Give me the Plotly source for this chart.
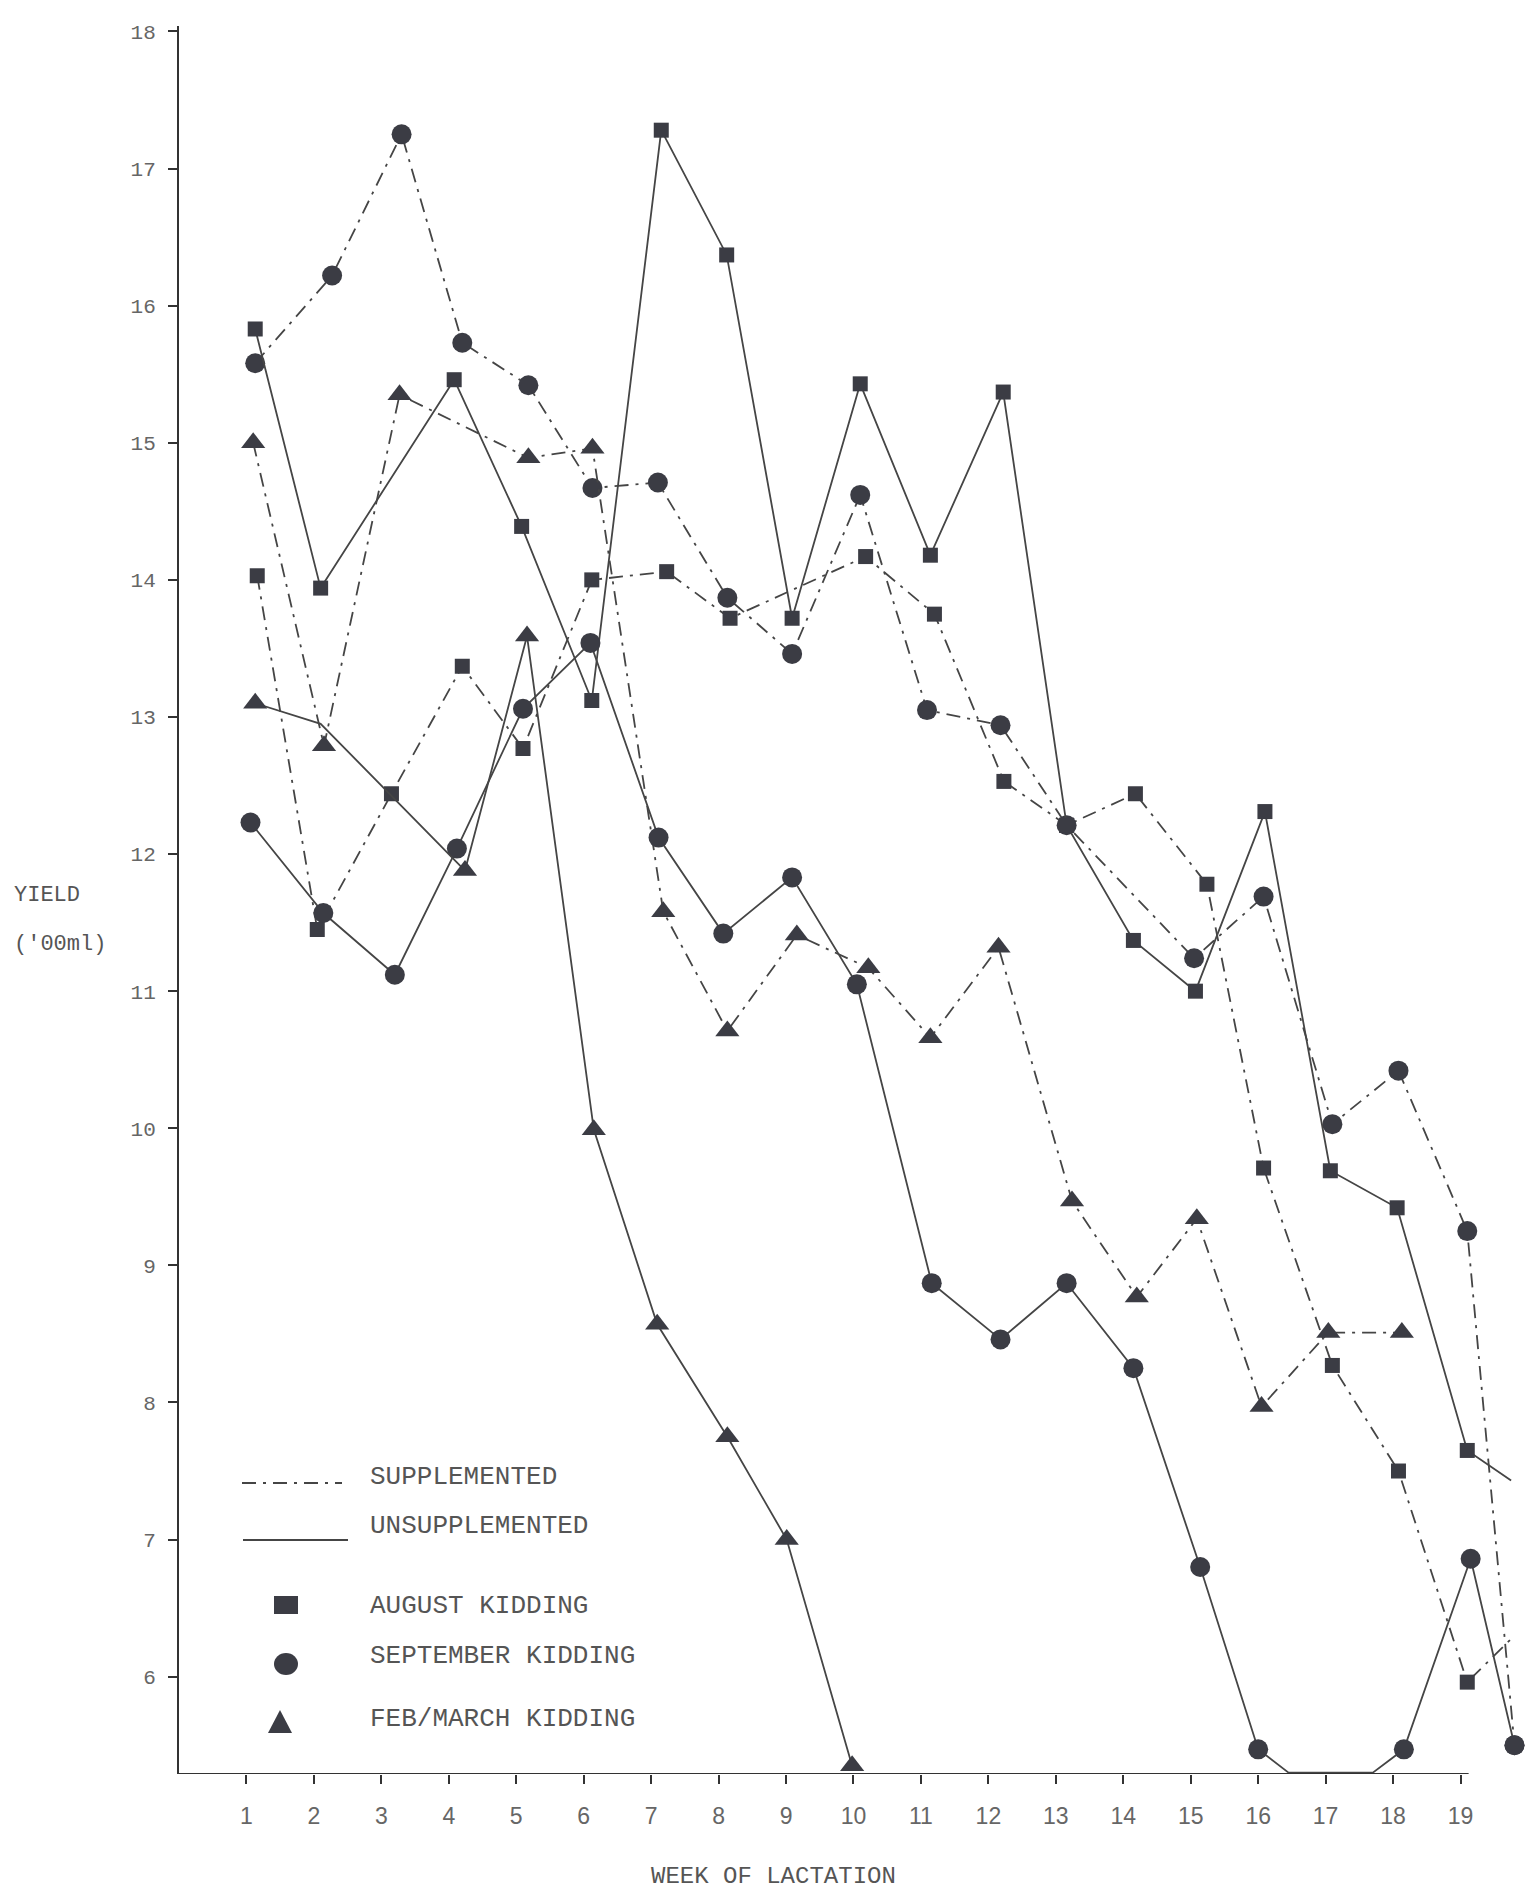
import plotly.graph_objects as go

# ---------------- data ----------------
WEEKS = list(range(1, 20))
Y_TICKS = list(range(6, 19))

# August kidding, unsupplemented (solid, squares)
AUG_UNSUP_X = [1.13, 2.1, 4.08, 5.08, 6.12, 7.15, 8.12, 9.09, 10.1, 11.14, 12.22, 13.16,
               14.15, 15.07, 16.1, 17.07, 18.06, 19.1, 19.75]
AUG_UNSUP_Y = [15.83, 13.94, 15.46, 14.39, 13.12, 17.28, 16.37, 13.72, 15.43, 14.18, 15.37, 12.21,
               11.37, 11.0, 12.31, 9.69, 9.42, 7.65, 7.43]

# August kidding, supplemented (dash-dot, squares)
AUG_SUP_X = [1.16, 2.05, 3.15, 4.2, 5.1, 6.12, 7.23, 8.17, 10.18, 11.2, 12.23, 13.16,
             14.18, 15.24, 16.08, 17.1, 18.08, 19.1, 19.8]
AUG_SUP_Y = [14.03, 11.45, 12.44, 13.37, 12.77, 14.0, 14.06, 13.72, 14.17, 13.75, 12.53, 12.21,
             12.44, 11.78, 9.71, 8.27, 7.5, 5.96, 6.3]

# September kidding, supplemented (dash-dot, circles)
SEP_SUP_X = [1.13, 2.27, 3.3, 4.2, 5.18, 6.13, 7.1, 8.13, 9.09, 10.1, 11.09, 12.18, 13.16,
             15.05, 16.08, 17.1, 18.08, 19.1, 19.8]
SEP_SUP_Y = [15.58, 16.22, 17.25, 15.73, 15.42, 14.67, 14.71, 13.87, 13.46, 14.62, 13.05, 12.94, 12.21,
             11.24, 11.69, 10.03, 10.42, 9.25, 5.5]

# September kidding, unsupplemented (solid, circles)
SEP_UNSUP_X = [1.06, 2.14, 3.2, 4.12, 5.1, 6.1, 7.11, 8.07, 9.09, 10.05, 11.16, 12.18, 13.16,
               14.15, 15.14, 16.0, 16.45, 17.7, 18.16, 19.15, 19.8]
SEP_UNSUP_Y = [12.23, 11.57, 11.12, 12.04, 13.06, 13.54, 12.12, 11.42, 11.83, 11.05, 8.87, 8.46, 8.87,
               8.25, 6.8, 5.47, 5.3, 5.3, 5.47, 6.86, 5.5]

# Feb/March kidding, supplemented (dash-dot, triangles)
FEB_SUP_X = [1.1, 2.15, 3.27, 5.18, 6.13, 7.18, 8.13, 9.16, 10.22, 11.14, 12.15, 13.24,
             14.2, 15.09, 16.05, 17.04, 18.13]
FEB_SUP_Y = [15.0, 12.79, 15.35, 14.89, 14.96, 11.58, 10.71, 11.41, 11.17, 10.66, 11.32, 9.47,
             8.77, 9.34, 7.97, 8.51, 8.51]

# Feb/March kidding, unsupplemented (solid, triangles)
FEB_UNSUP_X = [1.13, 2.1, 4.24, 5.16, 6.15, 7.09, 8.13, 9.01, 9.98]
FEB_UNSUP_Y = [13.1, 12.95, 11.88, 13.59, 9.99, 8.57, 7.75, 7.0, 5.35]

LEGEND_LINES = ["SUPPLEMENTED", "UNSUPPLEMENTED"]
LEGEND_MARKS = ["AUGUST KIDDING", "SEPTEMBER KIDDING", "FEB/MARCH KIDDING"]

# ---------------- styling / layout ----------------
W, H = 1530, 1892
ML, MT, MB = 179, 26, 118
PW, PH = W - ML, H - MT - MB
X_RANGE = [0, 20.03]
Y_RANGE = [5.29, 18.04]

LINE_COLOR = "#454545"
MARK_COLOR = "#3b3c44"
AXIS_COLOR = "#333333"
TEXT_COLOR = "#555555"
DASHDOT = "14px,7px,3px,7px"
MONO = "Liberation Mono, DejaVu Sans Mono, monospace"
SANS = "Liberation Sans, Arial, sans-serif"


def xp(px):
    return (px - ML) / PW


def yp(py):
    return 1 - (py - MT) / PH


fig = go.Figure()


def add_series(x, y, dash, symbol, size, hidden=()):
    sizes = [0 if i in hidden else size for i in range(len(x))]
    fig.add_trace(go.Scatter(
        x=x, y=y, mode="lines+markers",
        line=dict(color=LINE_COLOR, width=1.8, dash=dash),
        marker=dict(symbol=symbol, size=sizes, color=MARK_COLOR, opacity=1,
                    line=dict(width=0)),
        showlegend=False, hoverinfo="skip"))


add_series(AUG_SUP_X, AUG_SUP_Y, DASHDOT, "square", 15, hidden={len(AUG_SUP_X) - 1})
add_series(SEP_SUP_X, SEP_SUP_Y, DASHDOT, "circle", 20)
add_series(FEB_SUP_X, FEB_SUP_Y, DASHDOT, "triangle-up", 21)
add_series(AUG_UNSUP_X, AUG_UNSUP_Y, "solid", "square", 15, hidden={len(AUG_UNSUP_X) - 1})
add_series(SEP_UNSUP_X, SEP_UNSUP_Y, "solid", "circle", 20, hidden={16, 17})
add_series(FEB_UNSUP_X, FEB_UNSUP_Y, "solid", "triangle-up", 21, hidden={1})

shapes = [
    # x axis line (stops just past week 19)
    dict(type="line", xref="x", yref="y", x0=0, x1=19.12, y0=Y_RANGE[0], y1=Y_RANGE[0],
         line=dict(color=AXIS_COLOR, width=2)),
    # legend line samples
    dict(type="line", xref="paper", yref="paper", x0=xp(242), x1=xp(342), y0=yp(1483), y1=yp(1483),
         line=dict(color=LINE_COLOR, width=2, dash=DASHDOT)),
    dict(type="line", xref="paper", yref="paper", x0=xp(243), x1=xp(348), y0=yp(1540), y1=yp(1540),
         line=dict(color=LINE_COLOR, width=1.8)),
    # legend marker samples
    dict(type="rect", xref="paper", yref="paper", x0=xp(274), x1=xp(298), y0=yp(1614), y1=yp(1596),
         fillcolor=MARK_COLOR, line=dict(width=0)),
    dict(type="circle", xref="paper", yref="paper", x0=xp(274), x1=xp(298), y0=yp(1675), y1=yp(1653),
         fillcolor=MARK_COLOR, line=dict(width=0)),
    dict(type="path", xref="paper", yref="paper",
         path=f"M {xp(268)} {yp(1733)} L {xp(292)} {yp(1733)} L {xp(280)} {yp(1710)} Z",
         fillcolor=MARK_COLOR, line=dict(width=0)),
]

annotations = []


def txt(s, px, py, anchor="left", size=26, family=MONO):
    annotations.append(dict(text=s, xref="paper", yref="paper", x=xp(px), y=yp(py),
                            xanchor=anchor, yanchor="middle", showarrow=False,
                            font=dict(family=family, size=size, color=TEXT_COLOR)))


txt("YIELD", 12, 895, size=22)
txt("('00ml)", 12, 944, size=22)
txt("WEEK OF LACTATION", 773, 1876, anchor="center", size=24)

legend_y = [1477, 1526]
for s, py in zip(LEGEND_LINES, legend_y):
    txt(s, 368, py)
legend_y2 = [1606, 1656, 1719]
for s, py in zip(LEGEND_MARKS, legend_y2):
    txt(s, 368, py)

fig.update_layout(
    width=W, height=H,
    margin=dict(l=ML, r=0, t=MT, b=MB, pad=0),
    paper_bgcolor="white", plot_bgcolor="white",
    shapes=shapes, annotations=annotations,
    xaxis=dict(range=X_RANGE, tickvals=WEEKS, ticktext=[str(w) for w in WEEKS],
               ticks="outside", ticklen=9, tickwidth=2, tickcolor=AXIS_COLOR,
               showline=False, showgrid=False, zeroline=False,
               tickfont=dict(family=SANS, size=23, color="#666666"),
               ticklabelstandoff=12),
    yaxis=dict(range=Y_RANGE, tickvals=Y_TICKS, ticktext=[str(v) for v in Y_TICKS],
               ticks="outside", ticklen=9, tickwidth=2, tickcolor=AXIS_COLOR,
               showline=True, linecolor=AXIS_COLOR, linewidth=2,
               showgrid=False, zeroline=False,
               tickfont=dict(family=MONO, size=21, color="#666666"),
               ticklabelstandoff=8),
)

fig.write_html("out.html", config={"displayModeBar": False},
               post_script="document.body.style.margin='0';")
